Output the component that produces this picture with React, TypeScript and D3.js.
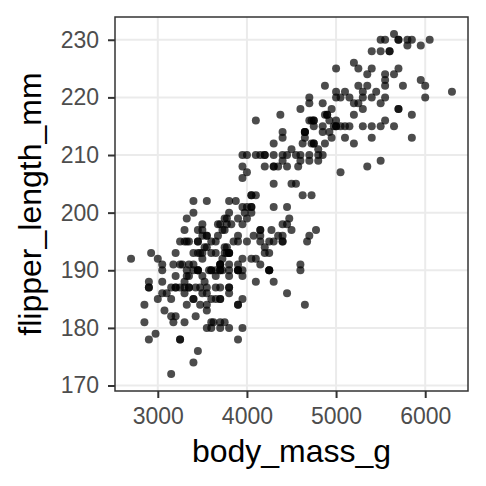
import React from 'react';
import * as d3 from 'd3';

const width = 486;
const height = 486;
const margin = {top: 17, right: 18, bottom: 95, left: 115};
const font = '"Liberation Sans", Arial, Helvetica, sans-serif';

// Adelie: body_mass_g, flipper_length_mm
const adelieMass = [
  3750, 3800, 3250, 3450, 3650, 3625, 4675, 3475, 4250, 3300, 3700, 3200, 3800, 4400, 3700, 3450, 4500, 3325, 4200,
  3400, 3600, 3800, 3950, 3800, 3800, 3550, 3200, 3150, 3950,
  3250, 3900, 3300, 3900, 3325, 4150, 3950, 3550, 3300, 4650, 3150, 3900, 3100, 4400, 3000, 4600, 3425, 2975, 3450, 4150,
  3500, 4300, 3450, 4050, 2900, 3700, 3550, 3800, 2850, 3750, 3150, 4400, 3600, 4050, 2850, 3950, 3350, 4100,
  3050, 4450, 3600, 3900, 3550, 4150, 3700, 4250, 3700, 3900, 3550, 4000, 3200, 4700, 3800, 4200,
  3350, 3550, 3800, 3500, 3950, 3600, 3550, 4300, 3400, 4450, 3300, 4300, 3700, 4350, 2900, 4100,
  3725, 4725, 3075, 4250, 2925, 3550, 3750, 3900, 3175, 4775, 3825, 4600, 3200, 4275, 3900, 4075,
  2900, 3775, 3350, 3325, 3150, 3500, 3450, 3875, 3050, 4000, 3275, 4300, 3050, 4000, 3325, 3500,
  3500, 4475, 3425, 3900, 3175, 3975, 3400, 4250, 3400, 3475, 3050, 3725, 3000, 3650, 4250, 3475, 3450, 3750, 3700, 4000,
];
const adelieFlipper = [
  181, 186, 195, 193, 190, 181, 195, 193, 190, 186, 180, 182, 191, 198, 185, 195, 197, 184, 194,
  174, 180, 189, 185, 180, 187, 183, 187, 172, 180,
  178, 178, 188, 184, 195, 196, 190, 180, 181, 184, 182, 195, 186, 196, 185, 190, 182, 179, 190, 191,
  186, 188, 190, 200, 187, 191, 186, 193, 181, 194, 185, 195, 185, 192, 184, 192, 195, 188,
  190, 198, 190, 190, 196, 197, 190, 195, 191, 184, 187, 195, 189, 196, 187, 193,
  191, 194, 190, 189, 189, 190, 202, 205, 185, 186, 187, 208, 190, 196, 178, 192,
  192, 203, 183, 190, 193, 184, 199, 190, 181, 197, 198, 191, 193, 197, 191, 196,
  188, 199, 189, 189, 187, 198, 176, 202, 186, 199, 191, 195, 191, 210, 190, 197,
  193, 199, 187, 190, 191, 200, 185, 193, 193, 187, 188, 190, 192, 185, 190, 184, 195, 193, 187, 201,
];

// Gentoo
const gentooMass = [
  4500, 5700, 4450, 5700, 5400, 4550, 4800, 5200, 4400, 5150, 4650, 5550, 4650, 5850, 4200, 5850, 4150, 6300,
  4800, 5350, 5700, 5000, 4400, 5050, 5000, 5100, 4100, 5650, 4600, 5550, 5250, 4700, 5050, 6050, 5150, 5400,
  4950, 5250, 4350, 5350, 3950, 5700, 4300, 4750, 5550, 4900, 4200, 5400, 5100, 5300, 4850, 5300, 4400, 5000,
  4900, 5050, 4300, 5000, 4450, 5550, 4200, 5300, 4400, 5650, 4700, 5700, 4650, 5800, 4700, 5550, 4750, 5000,
  5100, 5200, 4700, 5800, 4600, 6000, 4750, 5950, 4625, 5450, 4725, 5350, 4750, 5600, 4600, 5300, 4875, 5550,
  4950, 5400, 4750, 5650, 4850, 5200, 4925, 4875, 4625, 5250, 4850, 5600, 4975, 5500, 4725, 5500, 4700, 5500,
  4575, 5500, 5000, 5950, 4650, 5500, 4375, 5850, 4875, 6000, 4925, 4850, 5750, 5200, 5400,
];
const gentooFlipper = [
  211, 230, 210, 218, 215, 210, 211, 219, 209, 215, 214, 216, 214, 213, 210, 217, 210, 221,
  209, 222, 218, 215, 213, 215, 215, 215, 216, 215, 210, 220, 222, 209, 207, 230, 220, 220,
  213, 219, 208, 208, 208, 225, 210, 216, 222, 217, 210, 225, 213, 215, 210, 220, 210, 225,
  217, 220, 208, 220, 208, 224, 208, 221, 214, 231, 219, 230, 214, 229, 220, 223, 216, 221,
  221, 217, 216, 230, 209, 220, 215, 223, 212, 221, 212, 224, 212, 228, 218, 218, 212, 230,
  218, 228, 212, 224, 214, 226, 216, 222, 203, 225, 219, 228, 215, 228, 216, 215, 210, 219,
  208, 209, 216, 229, 213, 230, 217, 230, 217, 222, 214, 215, 222, 212, 213,
];

// Chinstrap
const chinstrapMass = [
  3500, 3900, 3650, 3525, 3725, 3950, 3250, 3750, 4150, 3700, 3800, 3775, 3700, 4050, 3575, 4050, 3300,
  3700, 3450, 4400, 3600, 3400, 2900, 3800, 3300, 4150, 3400, 3800, 3700, 4550, 3200, 4300, 3350, 4100,
  3600, 3900, 3850, 4800, 2700, 4500, 3950, 3650, 3550, 3500, 3675, 4450, 3400, 4300, 3250, 3675, 3325,
  3950, 3600, 4050, 3350, 3450, 3250, 4050, 3800, 3525, 3950, 3650, 3650, 4000, 3400, 3775, 4100, 3775,
];
const chinstrapFlipper = [
  192, 196, 193, 188, 197, 198, 178, 197, 195, 198, 193, 194, 185, 201, 190, 201, 197,
  181, 190, 195, 181, 191, 187, 193, 195, 197, 200, 200, 191, 205, 187, 201, 187, 203,
  195, 199, 195, 210, 192, 205, 210, 187, 196, 196, 196, 201, 190, 212, 187, 198, 199,
  201, 193, 203, 187, 197, 191, 203, 202, 194, 206, 189, 195, 207, 202, 193, 210, 198,
];

const massTicks = [3000, 4000, 5000, 6000];
const flipperTicks = [170, 180, 190, 200, 210, 220, 230];

type Penguin = {mass: number, flipper: number};

const penguins: Penguin[] = [
  ...adelieMass.map((m, i) => ({mass: m, flipper: adelieFlipper[i]})),
  ...gentooMass.map((m, i) => ({mass: m, flipper: gentooFlipper[i]})),
  ...chinstrapMass.map((m, i) => ({mass: m, flipper: chinstrapFlipper[i]})),
];

const App: React.FC = () => {
  const xAxisRef = React.useRef<SVGGElement>(null);
  const yAxisRef = React.useRef<SVGGElement>(null);

  // ggplot-style 5% expansion around the data range
  const massExtent = d3.extent(penguins, d => d.mass) as [number, number];
  const flipperExtent = d3.extent(penguins, d => d.flipper) as [number, number];
  const padX = (massExtent[1] - massExtent[0]) * 0.05;
  const padY = (flipperExtent[1] - flipperExtent[0]) * 0.05;

  const xScale = d3.scaleLinear()
    .domain([massExtent[0] - padX, massExtent[1] + padX])
    .range([margin.left, width - margin.right]);

  const yScale = d3.scaleLinear()
    .domain([flipperExtent[0] - padY, flipperExtent[1] + padY])
    .range([height - margin.bottom, margin.top]);

  React.useEffect(() => {
    const xAxis = d3.axisBottom(xScale)
      .tickValues(massTicks)
      .tickFormat(d3.format('d') as any)
      .tickSize(7)
      .tickPadding(10);
    const yAxis = d3.axisLeft(yScale)
      .tickValues(flipperTicks)
      .tickFormat(d3.format('d') as any)
      .tickSize(7)
      .tickPadding(9);

    const styleAxis = (g: d3.Selection<SVGGElement, unknown, null, undefined>) => {
      g.select('.domain').remove();
      g.selectAll('.tick line').attr('stroke', '#333333').attr('stroke-width', 2);
      g.selectAll('.tick text')
        .attr('fill', '#4d4d4d')
        .style('font-family', font)
        .style('font-size', '23px');
    };

    if (xAxisRef.current) {
      d3.select(xAxisRef.current).call(xAxis).call(styleAxis);
    }
    if (yAxisRef.current) {
      d3.select(yAxisRef.current).call(yAxis).call(styleAxis);
    }
  }, []);

  const [x0, x1] = xScale.range();
  const [y0, y1] = yScale.range();

  return (
    <svg width={width} height={height} style={{position: 'absolute', left: 0, top: 0, background: '#fff'}}>
      <rect x={x0} y={y1} width={x1 - x0} height={y0 - y1} fill='#ffffff' />
      {massTicks.map(t => (
        <line key={'gx' + t} x1={xScale(t)} x2={xScale(t)} y1={y1} y2={y0} stroke='#ebebeb' strokeWidth={2} />
      ))}
      {flipperTicks.map(t => (
        <line key={'gy' + t} x1={x0} x2={x1} y1={yScale(t)} y2={yScale(t)} stroke='#ebebeb' strokeWidth={2} />
      ))}
      <g>
        {penguins.map((d, i) => (
          <circle key={i} cx={xScale(d.mass)} cy={yScale(d.flipper)} r={4} fill='#000000' fillOpacity={0.7} />
        ))}
      </g>
      <rect x={x0} y={y1} width={x1 - x0} height={y0 - y1} fill='none' stroke='#333333' strokeWidth={1.5} />
      <g ref={xAxisRef} transform={`translate(0, ${y0})`} />
      <g ref={yAxisRef} transform={`translate(${x0}, 0)`} />
      <text x={(x0 + x1) / 2} y={462} textAnchor='middle' fontFamily={font} fontSize={32} fill='#000000'>
        body_mass_g
      </text>
      <text transform={`translate(41, ${(y0 + y1) / 2}) rotate(-90)`} textAnchor='middle'
        fontFamily={font} fontSize={32} fill='#000000'>
        flipper_length_mm
      </text>
    </svg>
  );
};

export default App;
